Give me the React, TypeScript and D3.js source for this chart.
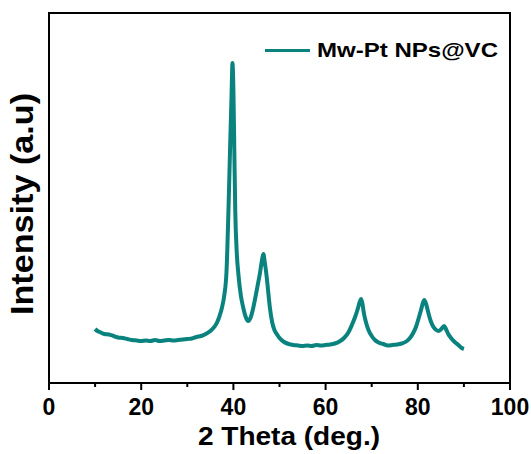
import React from "react";
import * as d3 from "d3";

const twoTheta = [
  10.0, 10.5, 11, 12, 13, 14, 15, 16, 17, 18, 19, 20, 21, 22, 23, 24, 25, 26, 27, 28, 29, 30,
  31, 32, 33, 34, 35, 36, 36.5, 37, 37.5, 38, 38.5, 38.9, 39.3, 39.6, 39.8, 40.0, 40.2, 40.4,
  40.7, 41.1, 41.6, 42.1, 42.6, 43.2, 43.7, 44.2, 44.7, 45.2, 45.8, 46.2, 46.5, 46.8, 47.2,
  47.6, 47.9, 48.4, 48.9, 49.4, 50, 51, 52, 53, 54, 55, 56, 57, 58, 59, 60, 61, 62, 63, 64,
  65, 65.7, 66.4, 66.9, 67.4, 67.7, 68.0, 68.3, 68.8, 69.3, 70, 70.7, 71.5, 72.5, 73.5, 74.5,
  75.5, 76.5, 77.5, 78.3, 79, 79.6, 80.2, 80.7, 81.1, 81.4, 81.8, 82.3, 82.8, 83.4, 84, 84.5,
  85.1, 85.7, 86.1, 86.6, 87.2, 88, 88.8, 89.5, 90,
];
const intensity = [
  54, 52, 51, 49, 48.5, 47, 45.5, 45, 44, 43, 42.5, 42, 42.5, 42, 43, 42, 42.5, 43, 42.5, 43,
  43.5, 44, 44.5, 46, 47, 49, 52, 57, 61, 67, 75, 87, 111, 168, 238, 288, 320, 293, 233, 173,
  133, 108, 88, 76, 67, 62, 65, 73, 84, 96, 111, 123, 129, 121, 107, 89, 76, 61, 53, 49, 45,
  41, 39, 38, 37.5, 37, 37.5, 37, 38, 37.5, 38, 38.5, 39.5, 41.5, 45, 51, 58, 66, 73, 81, 84,
  79, 70, 60, 53, 47, 43, 40.5, 39, 37.5, 38, 38.5, 39.5, 41.5, 45, 50, 56, 65, 73, 80, 83,
  79, 70, 62, 56, 53, 52, 54, 57, 54, 49, 45, 41, 38, 35, 34,
];
const xTicks = [0, 20, 40, 60, 80, 100];
const xMinorTicks = [10, 30, 50, 70, 90];
const seriesName = "Mw-Pt NPs@VC";
const xTitle = "2 Theta (deg.)";
const yTitle = "Intensity (a.u)";

const W = 531;
const H = 454;
const L = 49, R = 510, T = 13, B = 383;
const color = "#0A837F";
const font = "'Liberation Sans', Arial, sans-serif";

export default function App() {
  const x = d3.scaleLinear().domain([0, 100]).range([L, R]);
  const y = d3.scaleLinear().domain([0, 370]).range([B, T]);
  const data = twoTheta.map((t, i) => [t, intensity[i]] as [number, number]);
  const line = d3
    .line<[number, number]>()
    .x((d) => x(d[0]))
    .y((d) => y(d[1]))
    .curve(d3.curveMonotoneX);

  return (
    <svg
      width={W}
      height={H}
      style={{ position: "absolute", left: 0, top: 0, background: "#fff" }}
    >
      <rect x={0} y={0} width={W} height={H} fill="#fff" />
      <path d={line(data) || ""} fill="none" stroke={color} strokeWidth={4} strokeLinejoin="round" />
      <rect x={L} y={T} width={R - L} height={B - T} fill="none" stroke="#000" strokeWidth={2} />
      {xTicks.map((t) => (
        <g key={"t" + t}>
          <line x1={x(t)} x2={x(t)} y1={B} y2={B + 7} stroke="#000" strokeWidth={2} />
          <text
            x={x(t)}
            y={415}
            textAnchor="middle"
            fontFamily={font}
            fontWeight="bold"
            fontSize={23}
            fill="#000"
          >
            {t}
          </text>
        </g>
      ))}
      {xMinorTicks.map((t) => (
        <line key={"m" + t} x1={x(t)} x2={x(t)} y1={B} y2={B + 4} stroke="#000" strokeWidth={2} />
      ))}
      <text
        x={289}
        y={445}
        textAnchor="middle"
        fontFamily={font}
        fontWeight="bold"
        fontSize={25}
        textLength={182}
        lengthAdjust="spacingAndGlyphs"
        fill="#000"
      >
        {xTitle}
      </text>
      <text
        transform="translate(33,204) rotate(-90)"
        textAnchor="middle"
        fontFamily={font}
        fontWeight="bold"
        fontSize={32}
        textLength={222}
        lengthAdjust="spacingAndGlyphs"
        fill="#000"
      >
        {yTitle}
      </text>
      <line x1={265} x2={310} y1={50.5} y2={50.5} stroke={color} strokeWidth={3} />
      <text
        x={317}
        y={57}
        fontFamily={font}
        fontWeight="bold"
        fontSize={21}
        textLength={181}
        lengthAdjust="spacingAndGlyphs"
        fill="#000"
      >
        {seriesName}
      </text>
    </svg>
  );
}
